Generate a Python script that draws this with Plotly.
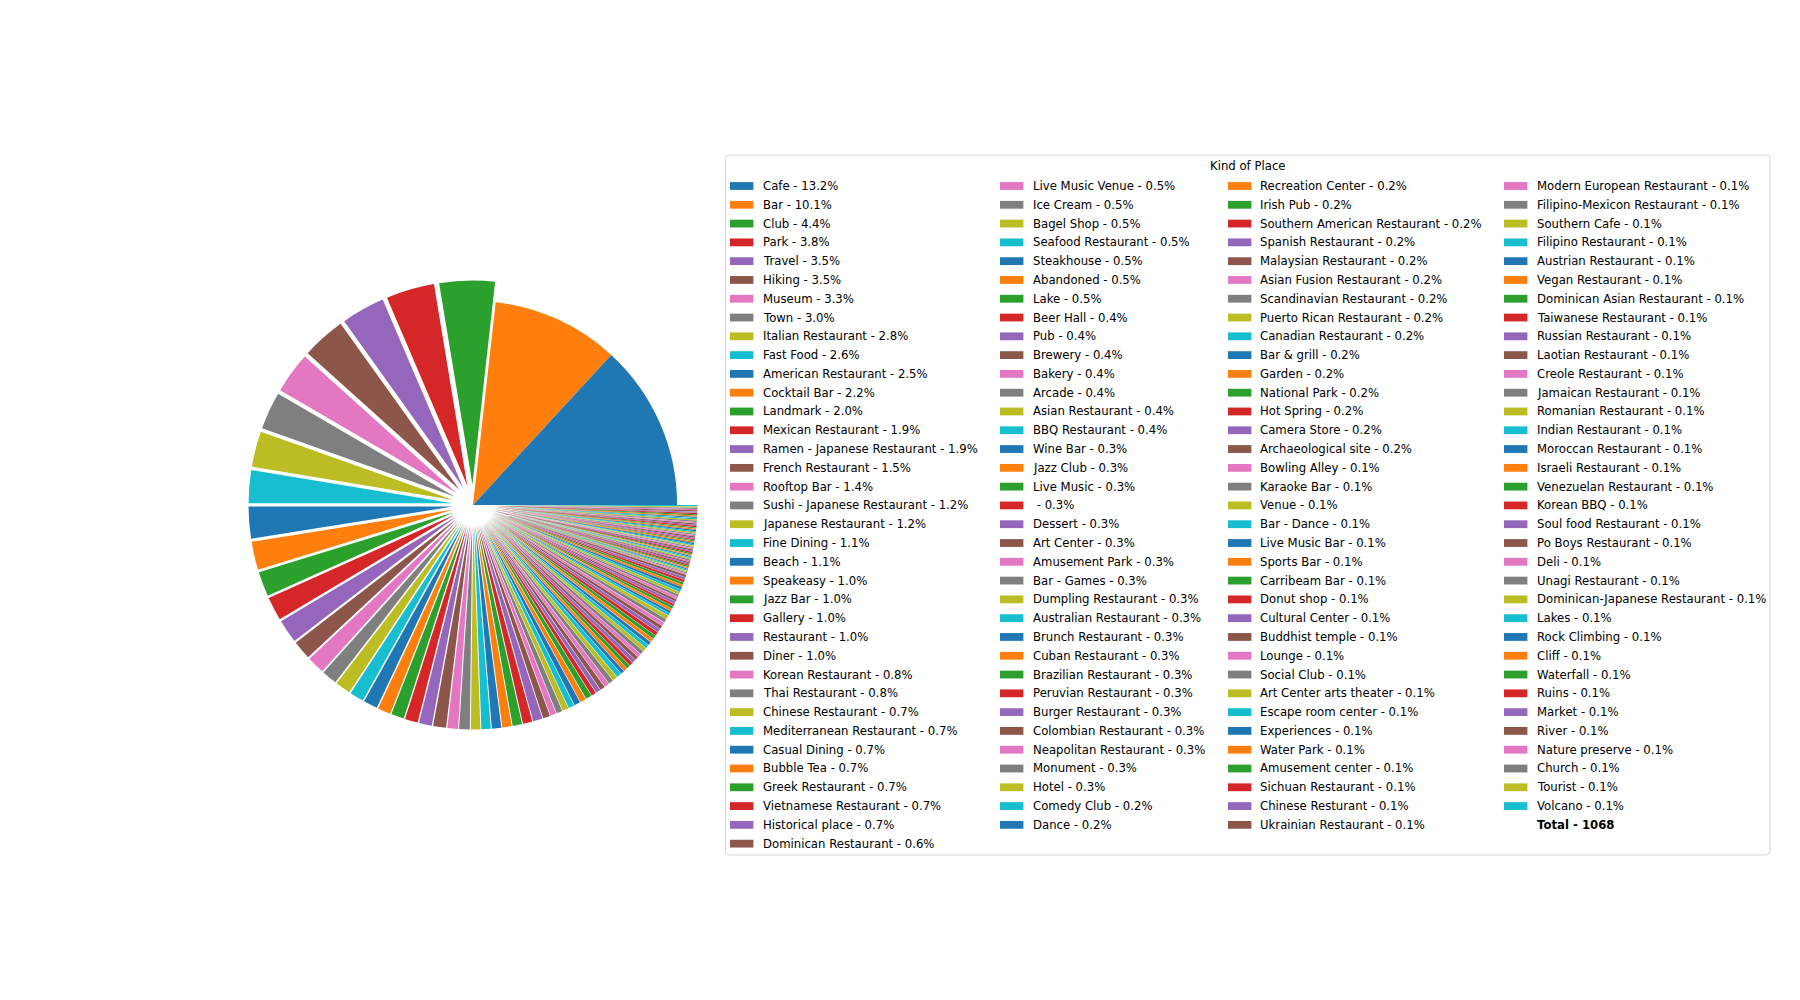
import plotly.graph_objects as go

# kinds of place, in the order of the pie / legend
kinds = [
    "Cafe", "Bar", "Club", "Park", "Travel", "Hiking", "Museum", "Town",
    "Italian Restaurant", "Fast Food", "American Restaurant", "Cocktail Bar",
    "Landmark", "Mexican Restaurant", "Ramen - Japanese Restaurant",
    "French Restaurant", "Rooftop Bar", "Sushi - Japanese Restaurant",
    "Japanese Restaurant", "Fine Dining", "Beach", "Speakeasy", "Jazz Bar",
    "Gallery", "Restaurant", "Diner", "Korean Restaurant", "Thai Restaurant",
    "Chinese Restaurant", "Mediterranean Restaurant", "Casual Dining",
    "Bubble Tea", "Greek Restaurant", "Vietnamese Restaurant",
    "Historical place", "Dominican Restaurant",
    "Live Music Venue", "Ice Cream", "Bagel Shop", "Seafood Restaurant",
    "Steakhouse", "Abandoned", "Lake", "Beer Hall", "Pub", "Brewery", "Bakery",
    "Arcade", "Asian Restaurant", "BBQ Restaurant", "Wine Bar", "Jazz Club",
    "Live Music", "", "Dessert", "Art Center", "Amusement Park", "Bar - Games",
    "Dumpling Restaurant", "Australian Restaurant", "Brunch Restaurant",
    "Cuban Restaurant", "Brazilian Restaurant", "Peruvian Restaurant",
    "Burger Restaurant", "Colombian Restaurant", "Neapolitan Restaurant",
    "Monument", "Hotel", "Comedy Club", "Dance",
    "Recreation Center", "Irish Pub", "Southern American Restaurant",
    "Spanish Restaurant", "Malaysian Restaurant", "Asian Fusion Restaurant",
    "Scandinavian Restaurant", "Puerto Rican Restaurant", "Canadian Restaurant",
    "Bar & grill", "Garden", "National Park", "Hot Spring", "Camera Store",
    "Archaeological site", "Bowling Alley", "Karaoke Bar", "Venue",
    "Bar - Dance", "Live Music Bar", "Sports Bar", "Carribeam Bar",
    "Donut shop", "Cultural Center", "Buddhist temple", "Lounge",
    "Social Club", "Art Center arts theater", "Escape room center",
    "Experiences", "Water Park", "Amusement center", "Sichuan Restaurant",
    "Chinese Resturant", "Ukrainian Restaurant",
    "Modern European Restaurant", "Filipino-Mexicon Restaurant",
    "Southern Cafe", "Filipino Restaurant", "Austrian Restaurant",
    "Vegan Restaurant", "Dominican Asian Restaurant", "Taiwanese Restaurant",
    "Russian Restaurant", "Laotian Restaurant", "Creole Restaurant",
    "Jamaican Restaurant", "Romanian Restaurant", "Indian Restaurant",
    "Moroccan Restaurant", "Israeli Restaurant", "Venezuelan Restaurant",
    "Korean BBQ", "Soul food Restaurant", "Po Boys Restaurant", "Deli",
    "Unagi Restaurant", "Dominican-Japanese Restaurant", "Lakes",
    "Rock Climbing", "Cliff", "Waterfall", "Ruins", "Market", "River",
    "Nature preserve", "Church", "Tourist", "Volcano",
]

# number of places of each kind (read from the legend percentages),
# ten per line
counts = [
    141, 108, 47, 41, 37, 37, 35, 32, 30, 28,
    27, 24, 21, 20, 20, 16, 15, 13, 13, 12,
    12, 11, 11, 11, 11, 11, 9, 9, 8, 8,
    8, 8, 8, 8, 8, 6, 5, 5, 5, 5,
    5, 5, 5, 4, 4, 4, 4, 4, 4, 4,
    3, 3, 3, 3, 3, 3, 3, 3, 3, 3,
    3, 3, 3, 3, 3, 3, 3, 3, 3, 2,
    2, 2, 2, 2, 2, 2, 2, 2, 2, 2,
    2, 2, 2, 2, 2, 2, 1, 1, 1, 1,
    1, 1, 1, 1, 1, 1, 1, 1, 1, 1,
    1, 1, 1, 1, 1, 1, 1, 1, 1, 1,
    1, 1, 1, 1, 1, 1, 1, 1, 1, 1,
    1, 1, 1, 1, 1, 1, 1, 1, 1, 1,
    1, 1, 1, 1, 1, 1, 1, 1, 1, 1,
]

total_places = 1068
legend_title = "Kind of Place"

assert len(kinds) == len(counts)

tab10 = ["#1f77b4", "#ff7f0e", "#2ca02c", "#d62728", "#9467bd",
         "#8c564b", "#e377c2", "#7f7f7f", "#bcbd22", "#17becf"]
colors = [tab10[i % 10] for i in range(len(kinds))]
# first two wedges stay in place, the rest are exploded
pulls = [0.0 if i < 2 else 0.1 for i in range(len(kinds))]

W, H = 1800, 1000
FS = 11.7
OFF = 8  # the page body margin


def px(x):
    return (x - OFF) / W


def py(y):
    return 1 - (y - OFF) / H


fig = go.Figure()

# matplotlib draws counterclockwise from 3 o'clock; reversing the order and
# going clockwise from 3 o'clock gives the same layout
fig.add_trace(go.Pie(
    labels=kinds[::-1],
    values=counts[::-1],
    marker=dict(colors=colors[::-1], line=dict(width=0)),
    pull=pulls[::-1],
    sort=False,
    direction="clockwise",
    rotation=90,
    textinfo="none",
    showlegend=False,
    domain=dict(x=[px(248.5), px(697.5)], y=[py(729.5), py(280.5)]),
))

# ---- legend, drawn by hand to get matplotlib's column-major 4 columns ----
s = sum(counts)
entries = [(f"{k} - {c / s * 100:.1f}%", col)
           for k, col, c in zip(kinds, colors, counts)]
entries.append((f"<b>Total - {total_places}</b>", None))

ncol = 4
base, extra = divmod(len(entries), ncol)
col_sizes = [base + (1 if c < extra else 0) for c in range(ncol)]
swatch_x = [730, 1000, 1228, 1504]
text_x = [761, 1031, 1258, 1535]
row0 = 186
row_h = 18.79

shapes = []
annotations = []

# frame with rounded corners
L, T, R, B, r = 725.5, 155, 1770, 855, 4
frame = (f"M {px(L + r)},{py(T)} L {px(R - r)},{py(T)} "
         f"Q {px(R)},{py(T)} {px(R)},{py(T + r)} "
         f"L {px(R)},{py(B - r)} Q {px(R)},{py(B)} {px(R - r)},{py(B)} "
         f"L {px(L + r)},{py(B)} Q {px(L)},{py(B)} {px(L)},{py(B - r)} "
         f"L {px(L)},{py(T + r)} Q {px(L)},{py(T)} {px(L + r)},{py(T)} Z")
shapes.append(dict(type="path", path=frame, xref="paper", yref="paper",
                   line=dict(color="#d6d6d6", width=1), fillcolor="white",
                   layer="below"))

annotations.append(dict(
    text=legend_title, x=px((L + R) / 2), y=py(166), xref="paper",
    yref="paper", xanchor="center", yanchor="middle", showarrow=False,
    font=dict(size=FS, color="black"),
))

idx = 0
for c, n in enumerate(col_sizes):
    for rrow in range(n):
        text, col = entries[idx]
        idx += 1
        yc = row0 + rrow * row_h
        if col is not None:
            shapes.append(dict(
                type="rect", xref="paper", yref="paper",
                x0=px(swatch_x[c]), x1=px(swatch_x[c] + 23.4),
                y0=py(yc + 3.9), y1=py(yc - 3.9),
                fillcolor=col, line=dict(width=0),
            ))
        annotations.append(dict(
            text=text, x=px(text_x[c]), y=py(yc), xref="paper", yref="paper",
            xanchor="left", yanchor="middle", showarrow=False,
            font=dict(size=FS, color="black"),
        ))

fig.update_layout(
    width=W, height=H,
    margin=dict(l=0, r=0, t=0, b=0),
    paper_bgcolor="white",
    plot_bgcolor="white",
    font=dict(family="DejaVu Sans", size=FS, color="black"),
    shapes=shapes,
    annotations=annotations,
    showlegend=False,
)

fig.write_html("out.html")
